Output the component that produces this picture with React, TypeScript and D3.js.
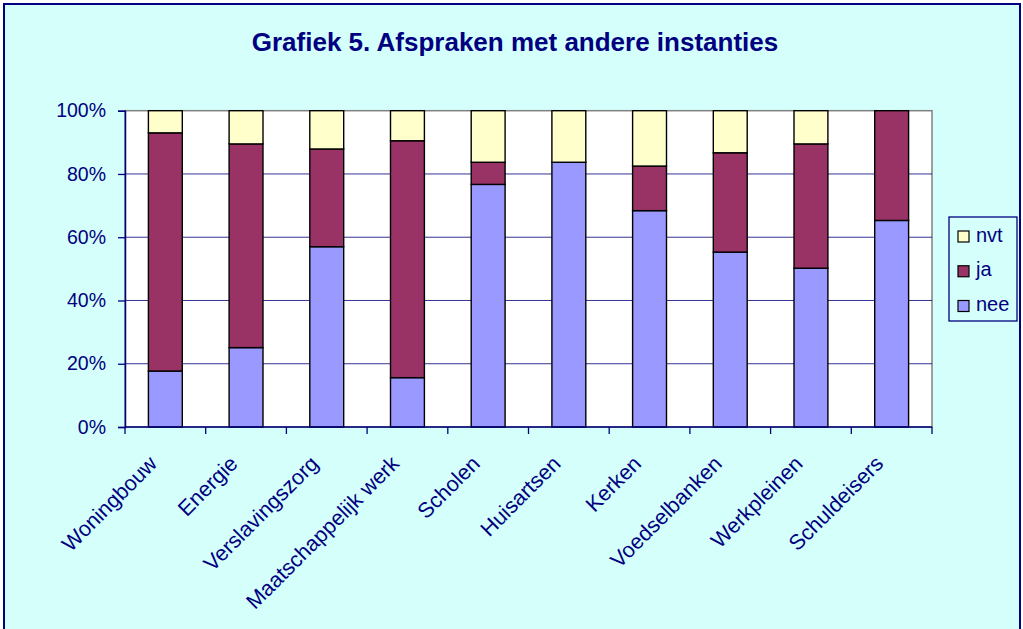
import React, { useEffect, useRef } from "react";
import * as d3 from "d3";

// data (percentages)
const categories = [
  "Woningbouw",
  "Energie",
  "Verslavingszorg",
  "Maatschappelijk werk",
  "Scholen",
  "Huisartsen",
  "Kerken",
  "Voedselbanken",
  "Werkpleinen",
  "Schuldeisers",
];
const nee = [17.7, 25.1, 57.0, 15.6, 76.7, 83.7, 68.4, 55.3, 50.2, 65.3];
const ja = [75.3, 64.4, 30.9, 74.9, 7.0, 0, 14.1, 31.4, 39.3, 34.7];
const nvt = [7.0, 10.5, 12.1, 9.5, 16.3, 16.3, 17.5, 13.3, 10.5, 0];
const yTicks = [0, 20, 40, 60, 80, 100];
const seriesKeys = ["nee", "ja", "nvt"];
const seriesColors: Record<string, string> = { nee: "#9999FF", ja: "#993366", nvt: "#FFFFCC" };

const App = () => {
  const ref = useRef<SVGSVGElement>(null);

  useEffect(() => {
    const height = 629;
    const navy = "#000080";
    const font = "'Liberation Sans', Arial, sans-serif";
    const plot = { left: 125, right: 932, top: 110.7, bottom: 427 };

    const svg = d3.select(ref.current);
    svg.selectAll("*").remove();

    // chart area
    svg
      .append("rect")
      .attr("x", 4)
      .attr("y", 4)
      .attr("width", 1016)
      .attr("height", height + 10)
      .attr("fill", "#D4FFFA")
      .attr("stroke", navy)
      .attr("stroke-width", 2);

    svg
      .append("text")
      .attr("x", 515)
      .attr("y", 51)
      .attr("text-anchor", "middle")
      .style("font-family", font)
      .style("font-weight", "bold")
      .style("font-size", "26px")
      .attr("fill", navy)
      .text("Grafiek 5. Afspraken met andere instanties");

    const slot = d3.scaleBand().domain(categories).range([plot.left, plot.right]);
    const x = d3
      .scaleBand()
      .domain(categories)
      .range([plot.left, plot.right])
      .paddingInner(0.58)
      .paddingOuter(0.29);
    const y = d3.scaleLinear().domain([0, 100]).range([plot.bottom, plot.top]);

    // plot area
    svg
      .append("rect")
      .attr("x", plot.left)
      .attr("y", plot.top)
      .attr("width", plot.right - plot.left)
      .attr("height", plot.bottom - plot.top)
      .attr("fill", "#fff")
      .attr("stroke", "#808080")
      .attr("stroke-width", 1.5);

    // gridlines
    svg
      .append("g")
      .selectAll("line")
      .data(yTicks.filter((t) => t > 0 && t < 100))
      .join("line")
      .attr("x1", plot.left)
      .attr("x2", plot.right)
      .attr("y1", (d) => y(d))
      .attr("y2", (d) => y(d))
      .attr("stroke", navy)
      .attr("stroke-opacity", 0.8)
      .attr("stroke-width", 1);

    // stacked bars
    const rows = categories.map((c, i) => ({ cat: c, nee: nee[i], ja: ja[i], nvt: nvt[i] }));
    const stacked = d3.stack<any>().keys(seriesKeys)(rows);

    svg
      .append("g")
      .selectAll("g")
      .data(stacked)
      .join("g")
      .attr("fill", (s) => seriesColors[s.key])
      .selectAll("rect")
      .data((s) => s.filter((d) => d[1] - d[0] > 0))
      .join("rect")
      .attr("x", (d) => x(d.data.cat)!)
      .attr("width", x.bandwidth())
      .attr("y", (d) => y(d[1]))
      .attr("height", (d) => y(d[0]) - y(d[1]))
      .attr("stroke", "#000")
      .attr("stroke-width", 1.4);

    // y axis
    const yAxis = svg
      .append("g")
      .attr("transform", `translate(${plot.left},0)`)
      .call(
        d3
          .axisLeft(y)
          .tickValues(yTicks)
          .tickSize(7)
          .tickPadding(12)
          .tickFormat((d) => `${d}%`)
      );
    yAxis.select(".domain").attr("stroke", navy).attr("stroke-width", 1.5);
    yAxis.selectAll(".tick line").attr("stroke", navy).attr("stroke-width", 1.3);
    yAxis
      .selectAll(".tick text")
      .attr("fill", navy)
      .style("font-family", font)
      .style("font-size", "19.5px");

    // x axis
    const xAxisG = svg.append("g");
    xAxisG
      .append("line")
      .attr("x1", plot.left)
      .attr("x2", plot.right)
      .attr("y1", plot.bottom)
      .attr("y2", plot.bottom)
      .attr("stroke", navy)
      .attr("stroke-width", 1.5);
    const tickXs = categories.map((c) => slot(c)!).concat([plot.right]);
    xAxisG
      .selectAll("line.tick")
      .data(tickXs)
      .join("line")
      .attr("class", "tick")
      .attr("x1", (d) => d)
      .attr("x2", (d) => d)
      .attr("y1", plot.bottom)
      .attr("y2", plot.bottom + 7)
      .attr("stroke", navy)
      .attr("stroke-width", 1.3);
    xAxisG
      .selectAll("text")
      .data(categories)
      .join("text")
      .attr("transform", (d) => `translate(${x(d)! + x.bandwidth() / 2 - 7},465) rotate(-45)`)
      .attr("text-anchor", "end")
      .attr("fill", navy)
      .style("font-family", font)
      .style("font-size", "21.5px")
      .text((d) => d);

    // legend
    const legend = svg.append("g");
    legend
      .append("rect")
      .attr("x", 949)
      .attr("y", 217)
      .attr("width", 68)
      .attr("height", 104)
      .attr("fill", "#D4FFFA")
      .attr("stroke", navy)
      .attr("stroke-width", 1.3);
    const legendKeys = [...seriesKeys].reverse();
    const ly = d3.scalePoint().domain(legendKeys).range([236.5, 306]);
    const item = legend
      .selectAll("g")
      .data(legendKeys)
      .join("g")
      .attr("transform", (d) => `translate(958,${ly(d)})`);
    item
      .append("rect")
      .attr("x", 0)
      .attr("y", -5.5)
      .attr("width", 11)
      .attr("height", 11)
      .attr("fill", (d) => seriesColors[d])
      .attr("stroke", "#000")
      .attr("stroke-width", 1.2);
    item
      .append("text")
      .attr("x", 18)
      .attr("y", 5)
      .attr("fill", navy)
      .style("font-family", font)
      .style("font-size", "20px")
      .text((d) => d);
  }, []);

  return (
    <svg
      ref={ref}
      width={1023}
      height={629}
      style={{ position: "absolute", left: 0, top: 0, display: "block" }}
    />
  );
};

export default App;
